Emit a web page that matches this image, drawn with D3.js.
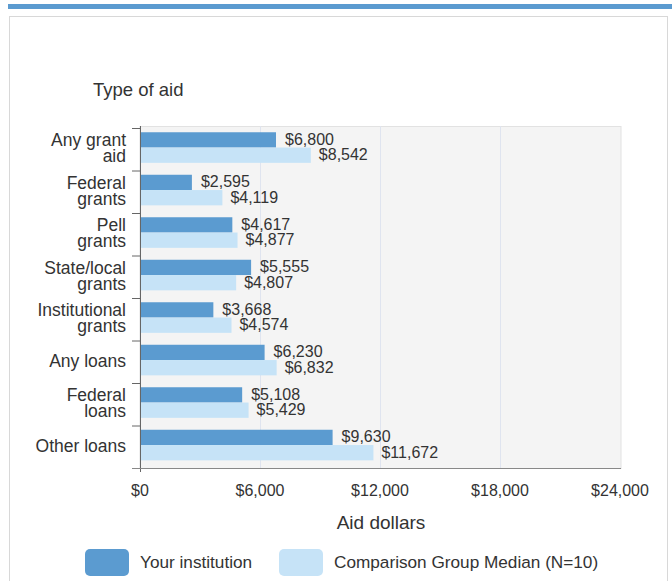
<!DOCTYPE html>
<html>
<head>
<meta charset="utf-8">
<script src="https://cdn.jsdelivr.net/npm/d3@7"></script>
<style>
  body { margin: 0; background: #fff; }
  svg text { font-family: "Liberation Sans", Arial, sans-serif; fill: #333; }
</style>
</head>
<body>
<svg id="chart" width="672" height="581"></svg>
<script>
// chart values
var categories = [
  ["Any grant", "aid"],
  ["Federal", "grants"],
  ["Pell", "grants"],
  ["State/local", "grants"],
  ["Institutional", "grants"],
  ["Any loans"],
  ["Federal", "loans"],
  ["Other loans"]
];
var yourInstitution = [6800, 2595, 4617, 5555, 3668, 6230, 5108, 9630];
var comparisonMedian = [8542, 4119, 4877, 4807, 4574, 6832, 5429, 11672];
var xTicks = [0, 6000, 12000, 18000, 24000];
var seriesNames = ["Your institution", "Comparison Group Median (N=10)"];

var colors = ["#5b9bd0", "#c6e3f7"];

var svg = d3.select("#chart");
var plotLeft = 140, plotRight = 620, plotTop = 126, plotBottom = 468;

// page chrome: blue band and frame
svg.append("rect").attr("x", 8).attr("y", 4).attr("width", 664).attr("height", 5).attr("fill", "#5b9bd0");
svg.append("rect").attr("x", 9.5).attr("y", 16.5).attr("width", 658).attr("height", 570)
  .attr("fill", "none").attr("stroke", "#d8d8d8");

var x = d3.scaleLinear().domain([0, 24000]).range([plotLeft, plotRight]);
var y = d3.scaleBand().domain(d3.range(categories.length)).range([plotTop + 2, plotBottom]);

// plot background
svg.append("rect").attr("x", plotLeft).attr("y", plotTop + 0.5)
  .attr("width", plotRight - plotLeft + 1).attr("height", plotBottom - plotTop)
  .attr("fill", "#f4f4f4").attr("stroke", "#e2e2e2");

// gridlines
svg.append("g").selectAll("line").data(xTicks.slice(1, -1)).enter().append("line")
  .attr("x1", function (d) { return x(d) + 0.5; })
  .attr("x2", function (d) { return x(d) + 0.5; })
  .attr("y1", plotTop).attr("y2", plotBottom)
  .attr("stroke", "#dfe4ef");

var barH = y.bandwidth() * 0.36;
var offset = y.bandwidth() * 0.1;

var group = svg.append("g").selectAll("g").data(categories).enter().append("g")
  .attr("transform", function (d, i) { return "translate(0," + y(i) + ")"; });

group.append("rect")
  .attr("x", plotLeft + 1)
  .attr("y", offset)
  .attr("height", barH)
  .attr("width", function (d, i) { return x(yourInstitution[i]) - plotLeft - 1; })
  .attr("fill", colors[0]);

group.append("rect")
  .attr("x", plotLeft + 1)
  .attr("y", offset + barH)
  .attr("height", barH)
  .attr("width", function (d, i) { return x(comparisonMedian[i]) - plotLeft - 1; })
  .attr("fill", colors[1]);

var fmt = function (v) { return "$" + d3.format(",")(v); };

group.append("text")
  .attr("x", function (d, i) { return x(yourInstitution[i]) + 9; })
  .attr("y", offset + barH / 2 + 5)
  .attr("font-size", 16)
  .text(function (d, i) { return fmt(yourInstitution[i]); });

group.append("text")
  .attr("x", function (d, i) { return x(comparisonMedian[i]) + 8; })
  .attr("y", offset + barH * 1.5 + 5)
  .attr("font-size", 16)
  .text(function (d, i) { return fmt(comparisonMedian[i]); });

// category labels
group.append("text")
  .attr("text-anchor", "end")
  .attr("font-size", 17.5)
  .each(function (d) {
    var t = d3.select(this);
    var start = y.bandwidth() / 2 + 5 - (d.length - 1) * 8;
    d.forEach(function (line, k) {
      t.append("tspan").attr("x", 126).attr("y", start + k * 16).text(line);
    });
  });

// y axis line and ticks
svg.append("line").attr("x1", plotLeft + 0.5).attr("x2", plotLeft + 0.5)
  .attr("y1", plotTop).attr("y2", plotBottom + 4)
  .attr("stroke", "#666");
svg.append("g").selectAll("line").data(d3.range(categories.length + 1)).enter().append("line")
  .attr("x1", plotLeft - 8).attr("x2", plotLeft)
  .attr("y1", function (i) { return (i < categories.length ? y(i) : plotBottom) + 0.5; })
  .attr("y2", function (i) { return (i < categories.length ? y(i) : plotBottom) + 0.5; })
  .attr("stroke", "#666");
svg.append("line").attr("x1", plotLeft - 8).attr("x2", plotRight + 1)
  .attr("y1", plotBottom + 0.5).attr("y2", plotBottom + 0.5)
  .attr("stroke", "#888");

// x axis labels
svg.append("g").selectAll("text").data(xTicks).enter().append("text")
  .attr("x", function (d) { return x(d); })
  .attr("y", 496)
  .attr("text-anchor", "middle")
  .attr("font-size", 16)
  .text(fmt);

svg.append("text").attr("x", 381).attr("y", 529).attr("text-anchor", "middle")
  .attr("font-size", 19).text("Aid dollars");
svg.append("text").attr("x", 93).attr("y", 96).attr("font-size", 18.5).text("Type of aid");

// legend
var legendX = [85, 279];
var legend = svg.append("g").selectAll("g").data(seriesNames).enter().append("g")
  .attr("transform", function (d, i) { return "translate(" + legendX[i] + ",549)"; });
legend.append("rect").attr("width", 44).attr("height", 27).attr("rx", 5)
  .attr("fill", function (d, i) { return colors[i]; });
legend.append("text").attr("x", 55).attr("y", 19).attr("font-size", 17.2).text(function (d) { return d; });
</script>
</body>
</html>
